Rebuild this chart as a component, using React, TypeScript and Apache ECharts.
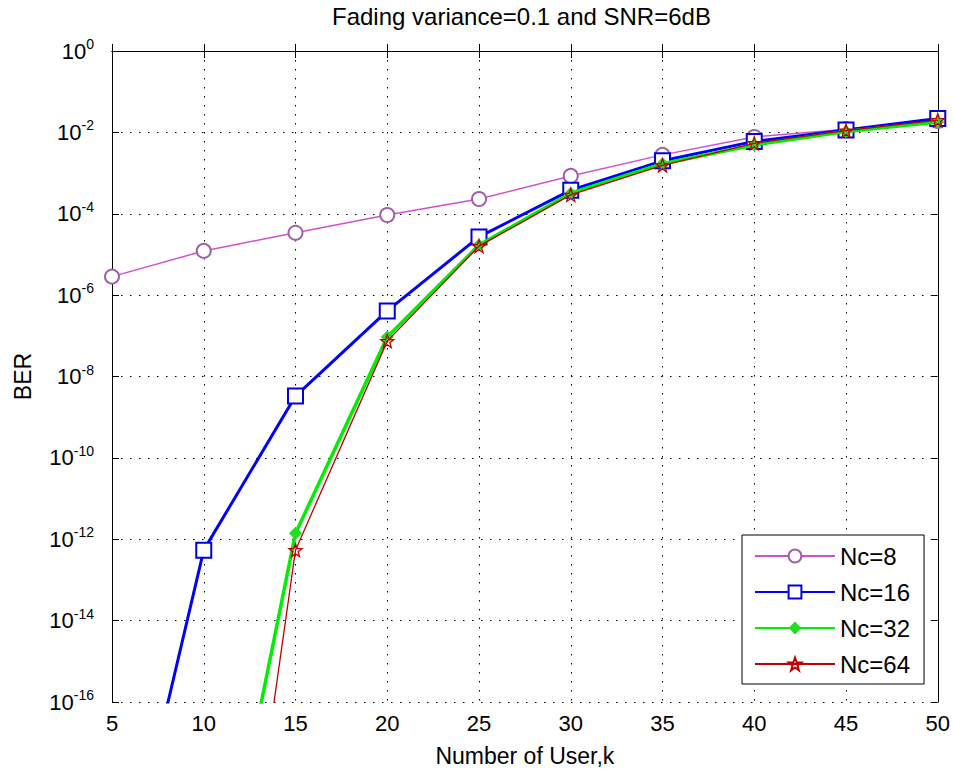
import React, { useEffect, useRef } from "react";
import * as echarts from "echarts";

const users = [5, 10, 15, 20, 25, 30, 35, 40, 45, 50];
const berNc8 = [2.85e-6, 1.22e-5, 3.4e-5, 9.3e-5, 2.3e-4, 8.5e-4, 2.8e-3, 7.7e-3, 1.2e-2, 1.9e-2];
const berNc16 = [1.4e-22, 5.4e-13, 3.3e-9, 4.1e-7, 2.7e-5, 3.8e-4, 2.0e-3, 6.0e-3, 1.15e-2, 2.2e-2];
const berNc32 = [null, 1e-23, 1.4e-12, 9.3e-8, 1.7e-5, 3.2e-4, 1.7e-3, 4.9e-3, 1.05e-2, 1.8e-2];
const berNc64 = [null, 6e-29, 5.4e-13, 7.4e-8, 1.6e-5, 2.9e-4, 1.55e-3, 5.4e-3, 1.1e-2, 2.0e-2];
const seriesNames = ["Nc=8", "Nc=16", "Nc=32", "Nc=64"];
// y axis: decades (exponent of 10) shown from 10^-16 to 10^0 every 2 decades
const yMinExp = -16;
const yMaxExp = 0;
const yStepExp = 2;

const STAR =
  "path://M0,-10 L2.35,-3.24 L9.51,-3.09 L3.8,1.24 L5.88,8.09 L0,4 L-5.88,8.09 L-3.8,1.24 L-9.51,-3.09 L-2.35,-3.24 Z";

const pairs = (vals: (number | null)[]) =>
  users.map((u, i) => [u, vals[i] == null ? null : Math.log10(vals[i] as number)]);

export default function App() {
  const ref = useRef<HTMLDivElement>(null);
  useEffect(() => {
    if (!ref.current) return;
    const chart = echarts.init(ref.current, null, { renderer: "svg" });
    const font = "Liberation Sans, Arial, sans-serif";
    const grid = { left: 112, right: 15, top: 51, bottom: 70 };
    const dotted = { color: "#000", width: 1, type: [1.5, 7.5] as any };
    const yBase = {
      type: "value",
      min: yMinExp,
      max: yMaxExp,
      interval: yStepExp,
      axisLine: { show: true, lineStyle: { color: "#000", width: 1 } },
      axisTick: { show: true, inside: true, length: 7, lineStyle: { color: "#000" } },
    };
    chart.setOption({
      animation: false,
      backgroundColor: "#fff",
      title: {
        text: "Fading variance=0.1 and SNR=6dB",
        left: 332,
        top: 4,
        padding: 0,
        textStyle: { fontFamily: font, fontSize: 24, fontWeight: "normal", color: "#000" },
      },
      grid,
      legend: {
        orient: "vertical",
        left: 742,
        top: 535,
        padding: [9, 14, 8, 12],
        itemWidth: 80,
        itemHeight: 16,
        itemGap: 12,
        borderColor: "#000",
        borderWidth: 1,
        backgroundColor: "#fff",
        data: seriesNames,
        textStyle: { fontFamily: font, fontSize: 24, color: "#000" },
      },
      xAxis: [
        {
          type: "value",
          min: 5,
          max: 50,
          interval: 5,
          position: "bottom",
          name: "Number of User,k",
          nameLocation: "middle",
          nameGap: 42,
          nameTextStyle: { fontFamily: font, fontSize: 23, color: "#000" },
          axisLine: { lineStyle: { color: "#000", width: 1 } },
          axisTick: { inside: true, length: 7, lineStyle: { color: "#000" } },
          axisLabel: { fontFamily: font, fontSize: 22, color: "#000", margin: 10 },
          splitLine: { show: true, lineStyle: dotted },
        },
        {
          type: "value",
          min: 5,
          max: 50,
          interval: 5,
          position: "top",
          axisLine: { lineStyle: { color: "#000", width: 1 } },
          axisTick: { inside: true, length: 7, lineStyle: { color: "#000" } },
          axisLabel: { show: false },
          splitLine: { show: false },
        },
      ],
      yAxis: [
        {
          ...yBase,
          position: "left",
          name: "BER",
          nameLocation: "middle",
          nameGap: 78,
          nameTextStyle: { fontFamily: font, fontSize: 23, color: "#000" },
          axisLabel: {
            margin: 18,
            formatter: (v: number) => "{b|10}{e|" + v + "}",
            rich: {
              b: { fontFamily: font, fontSize: 22, color: "#000" },
              e: { fontFamily: font, fontSize: 14, color: "#000", padding: [0, 0, 14, 0] },
            },
          },
          splitLine: { show: true, lineStyle: dotted },
        },
        {
          ...yBase,
          position: "right",
          axisLabel: { show: false },
          splitLine: { show: false },
        },
      ],
      series: [
        {
          name: seriesNames[0],
          type: "line",
          data: pairs(berNc8),
          symbol: "emptyCircle",
          symbolSize: 14,
          lineStyle: { color: "#d050d0", width: 1.5 },
          itemStyle: { color: "#a060a8", borderWidth: 1.2 },
          z: 2,
        },
        {
          name: seriesNames[1],
          type: "line",
          data: pairs(berNc16),
          symbol: "emptyRect",
          symbolSize: 15,
          lineStyle: { color: "#0000ff", width: 3 },
          itemStyle: { color: "#0000e0", borderWidth: 2.5 },
          z: 3,
        },
        {
          name: seriesNames[2],
          type: "line",
          data: pairs(berNc32),
          symbol: "diamond",
          symbolSize: 13,
          lineStyle: { color: "#00ee00", width: 3.5 },
          itemStyle: { color: "#22dd22" },
          z: 4,
        },
        {
          name: seriesNames[3],
          type: "line",
          data: pairs(berNc64),
          symbol: STAR,
          symbolSize: 13,
          lineStyle: { color: "#c00000", width: 1.3 },
          itemStyle: { color: "rgba(255,255,255,0)", borderColor: "#c00000", borderWidth: 1.3 },
          z: 5,
        },
      ],
    });
    return () => chart.dispose();
  }, []);
  return (
    <div
      ref={ref}
      style={{ position: "absolute", left: 0, top: 0, width: 953, height: 772 }}
    />
  );
}
